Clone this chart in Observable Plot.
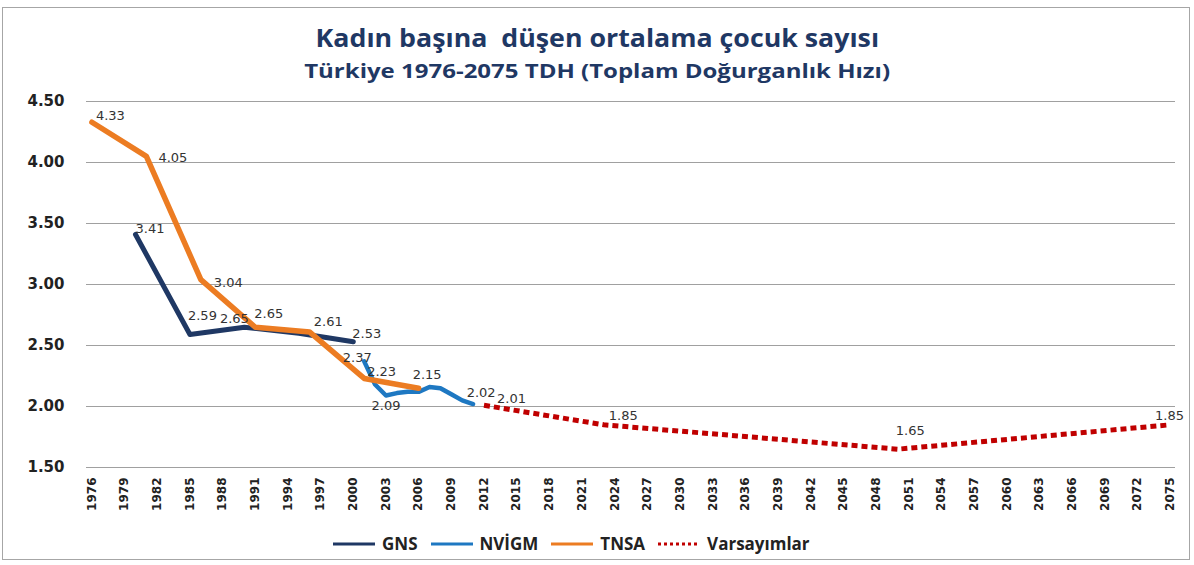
<!DOCTYPE html>
<html><head><meta charset="utf-8">
<script src="https://cdn.jsdelivr.net/npm/d3@7"></script>
<script src="https://cdn.jsdelivr.net/npm/@observablehq/plot@0.6"></script>
<style>
body{margin:0;background:#fff;width:1194px;height:565px;overflow:hidden;position:relative;font-family:"Open Sans",sans-serif}
#frame{position:absolute;left:2px;top:7px;width:1188px;height:553px;border:1px solid #a6a6a6;box-sizing:border-box}
.ttl{position:absolute;left:0;width:1194px;text-align:center;color:#1F3864;font-weight:700;white-space:pre}
#title{top:19px;font-size:25px;line-height:36px}
#subtitle{top:56px;font-size:20px;line-height:30px}
.ttl span{display:inline-block}
#title span{transform:scaleX(1.07)}
#subtitle span{transform:scaleX(1.2)}
#chart{position:absolute;left:0;top:80px}
#legend{position:absolute;left:333px;top:532px;display:flex;align-items:center;font-family:"Open Sans",sans-serif;font-weight:700;font-size:17px;color:#222}
#legend .item{display:flex;align-items:center;margin-right:13px}
#legend svg{margin-right:7px}
</style></head>
<body>
<div id="frame"></div>
<div id="title" class="ttl"><span>Kadın başına  düşen ortalama çocuk sayısı</span></div>
<div id="subtitle" class="ttl"><span>Türkiye 1976-2075 TDH (Toplam Doğurganlık Hızı)</span></div>
<div id="chart"></div>
<div id="legend"></div>
<script>
// ---- data ----
const gnsYears = [1980, 1985, 1990, 1995, 2000];
const gnsValues = [3.41, 2.59, 2.65, 2.60, 2.53];
const nvigmYears = [2001, 2002, 2003, 2004, 2005, 2006, 2007, 2008, 2009, 2010, 2011];
const nvigmValues = [2.37, 2.18, 2.09, 2.11, 2.12, 2.12, 2.16, 2.15, 2.10, 2.05, 2.02];
const tnsaYears = [1976, 1981, 1986, 1991, 1996, 2001, 2006];
const tnsaValues = [4.33, 4.05, 3.04, 2.65, 2.61, 2.23, 2.15];
const projYears = [2012, 2023, 2050, 2075];
const projValues = [2.01, 1.85, 1.65, 1.85];
const seriesNames = ["GNS", "NVİGM", "TNSA", "Varsayımlar"];
const xTicks = [1976,1979,1982,1985,1988,1991,1994,1997,2000,2003,2006,2009,2012,2015,2018,2021,2024,2027,2030,2033,2036,2039,2042,2045,2048,2051,2054,2057,2060,2063,2066,2069,2072,2075];
const yTicks = [1.5, 2.0, 2.5, 3.0, 3.5, 4.0, 4.5];
// labelled points: [year, value]
const labelPoints = [
  [1976, 4.33], [1981, 4.05], [1980, 3.41], [1986, 3.04], [1985, 2.59],
  [1990, 2.65], [1991, 2.65], [1996, 2.61], [2000, 2.53], [2001, 2.37],
  [2001, 2.23], [2003, 2.09], [2006, 2.15], [2011, 2.02], [2012, 2.01],
  [2023, 1.85], [2050, 1.65], [2075, 1.85]
];
// ---- label placement (style) ----
const labelNudge = [
  [4,-6,"start"],[12,1,"start"],[0,-6,"start"],[13,3,"start"],[-2,-19,"start"],
  [-10,-8,"middle"],[-1,-13,"start"],[4,-10,"start"],[-1,-8,"start"],[-7,-4,"middle"],
  [3,-7,"start"],[0,10,"middle"],[-6,-13,"start"],[8,-11,"middle"],[13,-6,"start"],
  [5,-9,"start"],[-2,-18,"start"],[-15,-9,"start"]
];
const colors = {"GNS":"#1F3864","NVİGM":"#1E78C2","TNSA":"#EC7C22","Varsayımlar":"#C00000"};

const toRows = (ys, vs) => ys.map((y, i) => ({year: y, value: vs[i]}));
const gns = toRows(gnsYears, gnsValues);
const nvigm = toRows(nvigmYears, nvigmValues);
const tnsa = toRows(tnsaYears, tnsaValues);
const proj = toRows(projYears, projValues);

const labelMarks = labelPoints.map((p, i) => Plot.text([{year: p[0], value: p[1]}], {
  x: "year", y: "value", text: d => d.value.toFixed(2),
  dx: labelNudge[i][0], dy: labelNudge[i][1], textAnchor: labelNudge[i][2],
  fontSize: 13, fill: "#333", fontFamily: "DejaVu Sans"
}));

const chart = Plot.plot({
  width: 1194, height: 450,
  marginLeft: 86, marginRight: 19, marginTop: 21, marginBottom: 63,
  x: {domain: [1975.5, 2075.5]},
  y: {domain: [1.5, 4.5]},
  style: {fontFamily: "DejaVu Sans", background: "transparent", overflow: "visible", color: "#222"},
  marks: [
    Plot.ruleY(yTicks, {stroke: "#a0a0a0", strokeWidth: 1}),
    Plot.axisY({ticks: yTicks, tickFormat: d3.format(".2f"), tickSize: 0, tickPadding: 22, fontSize: 15, fontWeight: "bold", label: null}),
    Plot.axisX({ticks: xTicks, tickFormat: d => String(d), tickRotate: -90, tickSize: 0, tickPadding: 10, fontSize: 12, fontWeight: "bold", label: null}),
    Plot.line(gns, {x: "year", y: "value", stroke: colors["GNS"], strokeWidth: 5, strokeLinejoin: "round"}),
    Plot.line(nvigm, {x: "year", y: "value", stroke: colors["NVİGM"], strokeWidth: 4.5, strokeLinejoin: "round"}),
    Plot.line(tnsa, {x: "year", y: "value", stroke: colors["TNSA"], strokeWidth: 5.5, strokeLinejoin: "round"}),
    Plot.line(proj, {x: "year", y: "value", stroke: colors["Varsayımlar"], strokeWidth: 5, strokeDasharray: "6,4", strokeLinecap: "butt", strokeLinejoin: "miter"}),
    ...labelMarks
  ]
});
document.getElementById("chart").appendChild(chart);

// legend
const legend = d3.select("#legend");
seriesNames.forEach(name => {
  const it = legend.append("div").attr("class", "item");
  const s = it.append("svg").attr("width", 42).attr("height", 10);
  s.append("line").attr("x1", 0).attr("x2", 42).attr("y1", 5).attr("y2", 5)
    .attr("stroke", colors[name]).attr("stroke-width", 3)
    .attr("stroke-dasharray", name === "Varsayımlar" ? "3,3" : null);
  it.append("span").text(name);
});
</script>
</body></html>
